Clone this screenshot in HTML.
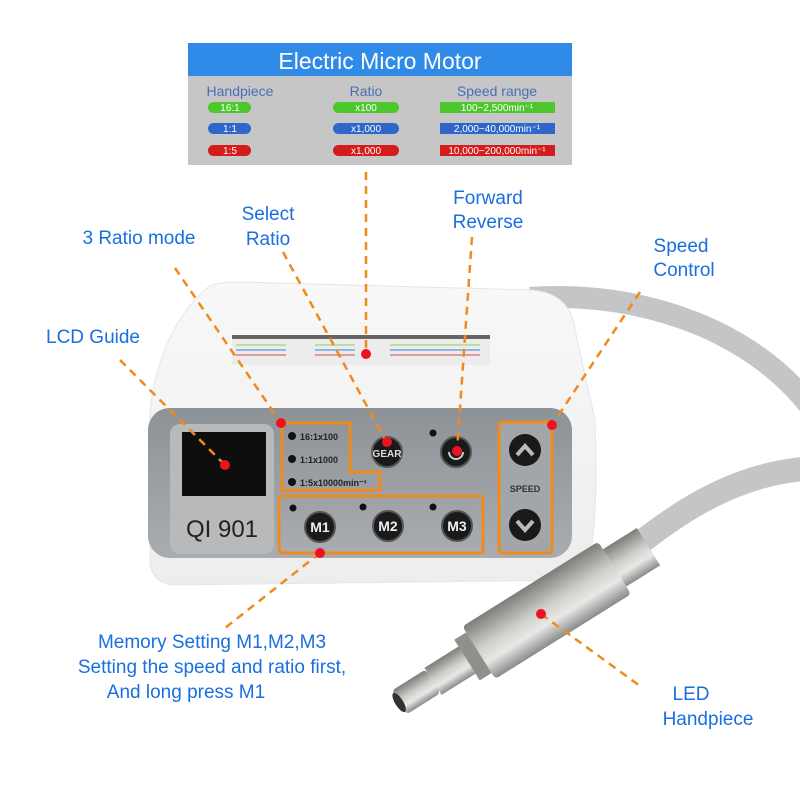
<!DOCTYPE html>
<html><head><style>
html,body{margin:0;padding:0;background:#fff;}
svg{display:block;}
text{font-family:"Liberation Sans",Arial,sans-serif;}
</style></head><body>
<svg width="800" height="800" viewBox="0 0 800 800" xmlns="http://www.w3.org/2000/svg">
<defs>
<linearGradient id="box" x1="0" y1="0" x2="0" y2="1">
<stop offset="0" stop-color="#f8f8f8"/><stop offset="1" stop-color="#ededed"/>
</linearGradient>
<linearGradient id="panel" x1="0" y1="0" x2="0" y2="1">
<stop offset="0" stop-color="#8d9297"/><stop offset="1" stop-color="#a9adb1"/>
</linearGradient>
<linearGradient id="metal" x1="0" y1="0" x2="0" y2="1">
<stop offset="0" stop-color="#8a8a88"/><stop offset="0.3" stop-color="#e8e8e6"/><stop offset="0.55" stop-color="#cfcfcc"/><stop offset="1" stop-color="#7d7d7a"/>
</linearGradient>
</defs>

<!-- table -->
<rect x="188" y="43" width="384" height="122" fill="#c6c6c6"/>
<rect x="188" y="43" width="384" height="33" fill="#2f8ae8"/>
<text x="380" y="69" font-size="23" font-weight="500" fill="#fff" text-anchor="middle">Electric Micro Motor</text>
<g font-size="14" fill="#4a6fb5" text-anchor="middle">
<text x="240" y="96">Handpiece</text><text x="366" y="96">Ratio</text><text x="497" y="96">Speed range</text>
</g>
<g font-size="10" fill="#fff" text-anchor="middle">
<rect x="208" y="102" width="43" height="11" rx="5.5" fill="#4cc72e"/><text x="230" y="111">16:1</text>
<rect x="333" y="102" width="66" height="11" rx="5.5" fill="#4cc72e"/><text x="366" y="111">x100</text>
<rect x="440" y="102" width="115" height="11" fill="#4cc72e"/><text x="497" y="111">100~2,500min⁻¹</text>
<rect x="208" y="123" width="43" height="11" rx="5.5" fill="#2f66c9"/><text x="230" y="132">1:1</text>
<rect x="333" y="123" width="66" height="11" rx="5.5" fill="#2f66c9"/><text x="366" y="132">x1,000</text>
<rect x="440" y="123" width="115" height="11" fill="#2f66c9"/><text x="497" y="132">2,000~40,000min⁻¹</text>
<rect x="208" y="145" width="43" height="11" rx="5.5" fill="#d41c1c"/><text x="230" y="154">1:5</text>
<rect x="333" y="145" width="66" height="11" rx="5.5" fill="#d41c1c"/><text x="366" y="154">x1,000</text>
<rect x="440" y="145" width="115" height="11" fill="#d41c1c"/><text x="497" y="154">10,000~200,000min⁻¹</text>
</g>

<!-- cable -->
<path d="M530 298 C640 290 760 330 820 420" stroke="#c3c5c7" stroke-width="22" fill="none"/>
<path d="M820 468 C740 470 680 510 625 555" stroke="#c3c5c7" stroke-width="24" fill="none"/>

<!-- box -->
<path d="M205 290 Q210 282 240 282 L530 290 Q570 292 575 330 L595 420 Q600 560 580 580 L170 585 Q150 580 150 560 L150 410 Q160 330 205 290 Z" fill="url(#box)" stroke="#e6e6e6"/>
<rect x="232" y="335" width="258" height="30" fill="#ececec"/>
<rect x="232" y="335" width="258" height="4" fill="#666"/>
<rect x="236" y="344" width="50" height="2" fill="#b8e0a0"/><rect x="236" y="349" width="50" height="2" fill="#8fb4e6"/><rect x="236" y="354" width="50" height="2" fill="#e39a9a"/>
<rect x="315" y="344" width="40" height="2" fill="#b8e0a0"/><rect x="315" y="349" width="40" height="2" fill="#8fb4e6"/><rect x="315" y="354" width="40" height="2" fill="#e39a9a"/>
<rect x="390" y="344" width="90" height="2" fill="#b8e0a0"/><rect x="390" y="349" width="90" height="2" fill="#8fb4e6"/><rect x="390" y="354" width="90" height="2" fill="#e39a9a"/>

<rect x="148" y="408" width="424" height="150" rx="22" fill="url(#panel)"/>
<rect x="170" y="424" width="104" height="130" rx="10" fill="#b7b9bb"/>
<rect x="182" y="432" width="84" height="64" fill="#0e0e0e"/>
<text x="222" y="537" font-size="24" fill="#222" text-anchor="middle">QI  901</text>

<!-- ratio rows -->
<g font-size="9" font-weight="bold" fill="#222">
<circle cx="292" cy="436" r="4" fill="#111"/><text x="300" y="440">16:1x100</text>
<circle cx="292" cy="459" r="4" fill="#111"/><text x="300" y="463">1:1x1000</text>
<circle cx="292" cy="482" r="4" fill="#111"/><text x="300" y="486">1:5x10000min⁻¹</text>
</g>
<path d="M282 423 L350 423 L350 472 L380 472 L380 490 L282 490 Z" fill="none" stroke="#f08a1c" stroke-width="3"/>
<circle cx="387" cy="452" r="15" fill="#1a1a1a" stroke="#555" stroke-width="2"/>
<text x="387" y="457" font-size="10" font-weight="bold" fill="#ddd" text-anchor="middle">GEAR</text>
<circle cx="433" cy="433" r="3.5" fill="#111"/>
<circle cx="456" cy="452" r="15" fill="#1a1a1a" stroke="#555" stroke-width="2"/>
<path d="M449 452 A7 7 0 0 0 463 452" stroke="#ccc" stroke-width="2" fill="none"/>

<!-- M buttons -->
<rect x="279" y="496" width="204" height="57" rx="3" fill="none" stroke="#f08a1c" stroke-width="3"/>
<g fill="#111"><circle cx="293" cy="508" r="3.5"/><circle cx="363" cy="507" r="3.5"/><circle cx="433" cy="507" r="3.5"/></g>
<g font-size="14" font-weight="bold" fill="#eee" text-anchor="middle">
<circle cx="320" cy="527" r="15" fill="#1a1a1a" stroke="#555" stroke-width="2"/><text x="320" y="532">M1</text>
<circle cx="388" cy="526" r="15" fill="#1a1a1a" stroke="#555" stroke-width="2"/><text x="388" y="531">M2</text>
<circle cx="457" cy="526" r="15" fill="#1a1a1a" stroke="#555" stroke-width="2"/><text x="457" y="531">M3</text>
</g>

<!-- speed -->
<rect x="499" y="422" width="53" height="131" rx="3" fill="#a3a6a9" stroke="#f08a1c" stroke-width="3"/>
<circle cx="525" cy="450" r="16" fill="#1a1a1a"/>
<path d="M517 455 L525 446 L533 455" stroke="#bbb" stroke-width="4" fill="none"/>
<text x="525" y="492" font-size="9" font-weight="bold" fill="#333" text-anchor="middle">SPEED</text>
<circle cx="525" cy="525" r="16" fill="#1a1a1a"/>
<path d="M517 521 L525 530 L533 521" stroke="#bbb" stroke-width="4" fill="none"/>

<!-- handpiece -->
<g transform="translate(640,552) rotate(148)">
<rect x="-10" y="-22" width="40" height="44" fill="url(#metal)"/>
<rect x="30" y="-31" width="160" height="62" rx="4" fill="url(#metal)"/>
<rect x="190" y="-24" width="14" height="48" fill="#8f8f8c"/>
<rect x="204" y="-16" width="40" height="32" fill="url(#metal)"/>
<rect x="244" y="-14" width="40" height="28" rx="4" fill="url(#metal)"/>
<ellipse cx="284" cy="0" rx="4" ry="11" fill="#333"/>
</g>

<!-- dashed connectors -->
<g stroke="#f08a1c" stroke-width="2.5" stroke-dasharray="8,6" fill="none">
<line x1="175" y1="268" x2="281" y2="423"/>
<line x1="120" y1="360" x2="225" y2="465"/>
<line x1="283" y1="252" x2="387" y2="443"/>
<line x1="366" y1="172" x2="366" y2="354"/>
<line x1="472" y1="237" x2="457" y2="451"/>
<line x1="640" y1="292" x2="552" y2="425"/>
<line x1="320" y1="553" x2="225" y2="628"/>
<line x1="541" y1="614" x2="640" y2="686"/>
</g>

<!-- red dots -->
<g fill="#ee1122">
<circle cx="225" cy="465" r="5"/><circle cx="366" cy="354" r="5"/><circle cx="281" cy="423" r="5"/>
<circle cx="387" cy="442" r="5"/><circle cx="457" cy="451" r="5"/><circle cx="552" cy="425" r="5"/>
<circle cx="320" cy="553" r="5"/><circle cx="541" cy="614" r="5"/>
</g>

<!-- labels -->
<g font-size="19" fill="#1a6fe0" text-anchor="middle">
<text x="139" y="244">3 Ratio mode</text>
<text x="268" y="220">Select</text><text x="268" y="245">Ratio</text>
<text x="488" y="204">Forward</text><text x="488" y="228">Reverse</text>
<text x="681" y="252">Speed</text><text x="684" y="276">Control</text>
<text x="93" y="343">LCD Guide</text>
<text x="212" y="648">Memory Setting M1,M2,M3</text>
<text x="212" y="673">Setting the speed and ratio first,</text>
<text x="186" y="698">And long press M1</text>
<text x="691" y="700">LED</text><text x="708" y="725">Handpiece</text>
</g>
</svg>
</body></html>
